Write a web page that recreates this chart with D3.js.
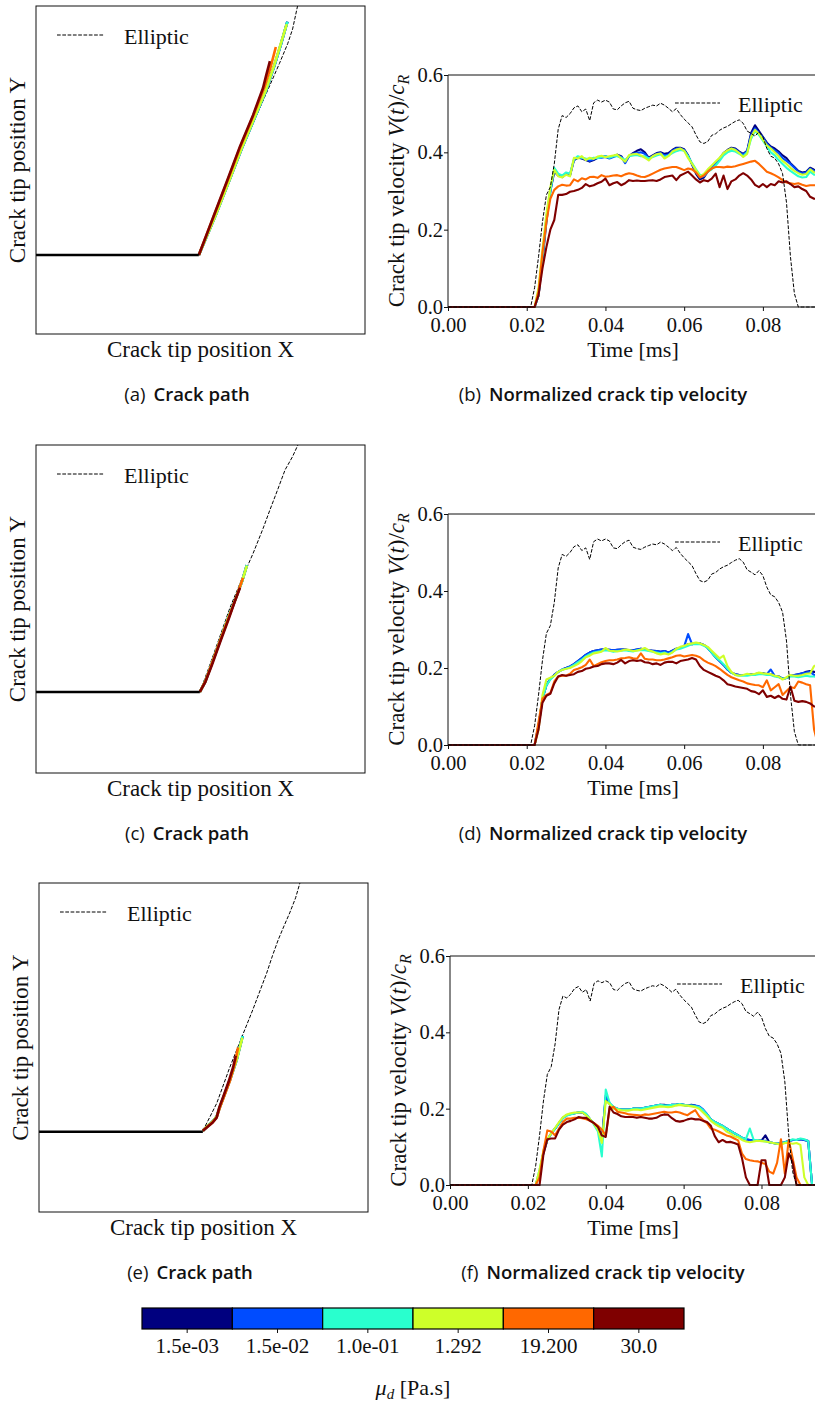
<!DOCTYPE html>
<html>
<head>
<meta charset="utf-8">
<script src="https://cdn.jsdelivr.net/npm/d3@7"></script>
<style>
  body { margin: 0; background: #fff; }
  svg { display: block; }
</style>
</head>
<body>
<script>
// ---- data -------------------------------------------------------------
// time samples in microseconds (0.001 ms)
const timeUs = [0,
  20,21,22,23,24,25,26,27,28,29,
  30,31,32,33,34,35,36,37,38,39,
  40,41,42,43,44,45,46,47,48,49,
  50,51,52,53,54,55,56,57,58,59,
  60,61,62,63,64,65,66,67,68,69,
  70,71,72,73,74,75,76,77,78,79,
  80,81,82,83,84,85,86,87,88,89,
  90,91,92,93,94];

const muLabels = ["1.5e-03", "1.5e-02", "1.0e-01", "1.292", "19.200", "30.0"];
const muColors = ["#00007f", "#004cff", "#29ffce", "#ceff29", "#ff6800", "#7f0000"];

// elliptic reference velocity (same in b, d, f)
const vElliptic = [0,
  0,0,.05,.13,.22,.29,.31,.37,.46,.495,
  .49,.50,.515,.52,.505,.512,.482,.528,.535,.53,
  .535,.53,.512,.51,.52,.528,.532,.514,.51,.508,
  .514,.518,.522,.52,.527,.522,.514,.505,.513,.498,
  .486,.476,.466,.445,.427,.423,.428,.444,.448,.457,
  .463,.467,.474,.48,.484,.475,.455,.449,.442,.453,
  .44,.41,.39,.385,.37,.345,.27,.13,.035,0,
  0,0,0,0,0];

// panel (b), one list per mu_d
const velB = [
  [0, 0,0,0,.03,.12,.22,.30,.35,.34,.336, .344,.34,.38,.386,.384,.38,.376,.38,.386,.388,
   .39,.386,.39,.394,.39,.375,.39,.398,.404,.408, .40,.386,.392,.398,.40,.396,.398,.406,.412,.412,
   .408,.392,.368,.345,.33,.335,.35,.36,.372,.384, .398,.406,.412,.41,.402,.396,.404,.45,.47,.455,
   .44,.425,.415,.41,.402,.392,.385,.372,.362,.352, .348,.35,.36,.355,.352],
  [0, 0,0,0,.03,.13,.23,.30,.355,.342,.338, .345,.342,.38,.388,.385,.382,.378,.382,.386,.386,
   .388,.384,.388,.392,.388,.372,.39,.396,.398,.40, .396,.384,.39,.396,.398,.392,.394,.404,.41,.41,
   .406,.39,.37,.35,.335,.338,.352,.362,.372,.382, .396,.404,.41,.408,.40,.394,.402,.445,.462,.45,
   .438,.422,.412,.405,.398,.385,.378,.37,.36,.35, .345,.348,.358,.352,.35],
  [0, 0,0,0,.03,.13,.23,.30,.36,.345,.34, .348,.345,.382,.39,.386,.384,.383,.386,.385,.388,
   .39,.386,.39,.39,.386,.38,.39,.392,.393,.39, .39,.384,.388,.392,.395,.388,.392,.398,.403,.406,
   .404,.39,.372,.356,.342,.34,.35,.356,.366,.378, .392,.40,.404,.402,.396,.39,.40,.435,.455,.445,
   .43,.415,.40,.392,.38,.37,.36,.352,.345,.338, .335,.336,.35,.342,.342],
  [0, 0,0,0,.05,.15,.24,.31,.355,.338,.335, .342,.338,.386,.384,.39,.38,.386,.383,.389,.391,
   .387,.39,.392,.394,.384,.376,.393,.395,.396,.392, .386,.379,.39,.395,.397,.384,.39,.402,.407,.41,
   .404,.385,.37,.354,.338,.344,.356,.366,.376,.386, .398,.405,.41,.406,.398,.388,.396,.44,.458,.448,
   .433,.418,.41,.40,.39,.378,.37,.36,.352,.346, .342,.344,.356,.348,.347],
  [0, 0,0,0,.04,.14,.22,.28,.303,.312,.316, .314,.315,.33,.325,.333,.33,.336,.337,.334,.341,
   .337,.338,.34,.341,.338,.343,.346,.344,.34,.337, .336,.34,.345,.35,.355,.358,.36,.362,.362,.358,
   .354,.358,.356,.348,.335,.34,.35,.358,.362,.362, .361,.363,.362,.364,.367,.37,.373,.376,.378,.37,
   .36,.35,.346,.341,.335,.328,.322,.32,.318,.32, .316,.313,.315,.315,.315],
  [0, 0,0,0,.03,.10,.155,.20,.225,.29,.29, .292,.298,.30,.303,.308,.318,.312,.315,.32,.324,
   .332,.315,.32,.323,.315,.32,.328,.326,.327,.326, .326,.327,.328,.326,.33,.336,.338,.34,.328,.34,
   .345,.35,.34,.33,.322,.328,.325,.332,.345,.31, .34,.305,.325,.33,.34,.346,.34,.33,.316,.31,
   .318,.31,.318,.315,.325,.322,.325,.318,.31,.312, .305,.30,.285,.28,.28]
];

// panel (d)
const velD = [
  [0, 0,0,0,.05,.12,.155,.172,.182,.19,.196, .20,.204,.21,.218,.226,.234,.24,.244,.246,.248,
   .248,.247,.246,.247,.248,.248,.246,.246,.248,.25, .248,.246,.245,.244,.242,.244,.24,.245,.25,.252,
   .256,.262,.262,.265,.264,.26,.252,.24,.228,.218, .208,.196,.188,.184,.182,.182,.182,.184,.184,.186,
   .186,.184,.184,.18,.178,.172,.174,.18,.182,.184, .186,.19,.192,.19,.188],
  [0, 0,0,0,.05,.12,.155,.172,.182,.19,.196, .20,.204,.21,.218,.226,.234,.24,.244,.246,.248,
   .248,.247,.246,.247,.248,.248,.246,.246,.248,.25, .248,.246,.245,.244,.242,.244,.24,.245,.25,.252,
   .256,.288,.262,.265,.264,.26,.252,.24,.228,.218, .208,.196,.188,.184,.182,.182,.182,.184,.184,.186,
   .186,.184,.196,.18,.178,.172,.174,.18,.182,.184, .186,.188,.19,.182,.18],
  [0, 0,0,0,.05,.12,.155,.17,.18,.19,.196, .198,.202,.208,.215,.222,.23,.236,.24,.242,.244,
   .246,.245,.242,.244,.245,.246,.244,.243,.246,.247, .246,.244,.242,.24,.238,.24,.236,.242,.248,.25,
   .254,.258,.262,.262,.262,.258,.252,.24,.228,.22, .21,.198,.188,.182,.18,.18,.18,.182,.182,.184,
   .184,.182,.182,.178,.176,.172,.174,.178,.178,.176, .178,.18,.178,.178,.175],
  [0, 0,0,0,.04,.13,.17,.175,.18,.19,.195, .198,.20,.205,.21,.218,.228,.232,.238,.24,.242,
   .252,.245,.244,.243,.245,.248,.247,.244,.245,.248, .252,.246,.243,.238,.235,.238,.235,.24,.25,.255,
   .258,.262,.264,.266,.264,.26,.255,.245,.235,.225, .232,.205,.19,.182,.18,.182,.185,.183,.185,.188,
   .186,.185,.184,.18,.178,.17,.176,.182,.18,.18, .182,.185,.186,.205,.21],
  [0, 0,0,0,.06,.12,.13,.135,.165,.178,.18, .18,.185,.195,.198,.202,.208,.222,.205,.21,.215,
   .218,.22,.22,.222,.225,.226,.228,.225,.224,.238, .224,.222,.222,.22,.22,.222,.225,.228,.232,.233,
   .23,.232,.234,.232,.228,.22,.214,.21,.205,.198, .19,.182,.176,.172,.168,.165,.16,.158,.156,.155,
   .15,.168,.142,.15,.158,.13,.14,.15,.148,.165, .162,.158,.155,.04,0],
  [0, 0,0,0,.04,.11,.128,.133,.16,.178,.182, .18,.182,.184,.19,.192,.198,.20,.204,.205,.21,
   .212,.212,.21,.214,.221,.212,.218,.22,.218,.22, .215,.214,.21,.212,.208,.214,.216,.216,.212,.218,
   .22,.222,.226,.222,.205,.195,.19,.185,.18,.176, .168,.158,.155,.152,.15,.148,.146,.14,.138,.132,
   .142,.125,.128,.122,.128,.12,.118,.152,.115,.112, .114,.112,.108,.10,.10]
];

// panel (f)
const velF = [
  [0, 0,0,0,.03,.085,.118,.135,.148,.162,.176, .183,.186,.188,.19,.19,.184,.172,.16,.145,.12,
   .23,.212,.202,.2,.198,.198,.198,.2,.2,.2, .202,.204,.206,.208,.21,.21,.208,.21,.21,.212,
   .21,.208,.21,.208,.204,.196,.185,.172,.165,.16, .155,.148,.142,.136,.13,.124,.12,.118,.118,.118,
   .116,.13,.112,.11,.108,.11,.112,.115,.118,.118, .12,.118,.115,0,0],
  [0, 0,0,0,.03,.085,.118,.135,.148,.162,.176, .183,.186,.188,.19,.19,.184,.172,.16,.145,.115,
   .235,.214,.204,.2,.198,.198,.198,.2,.2,.2, .202,.204,.206,.208,.21,.208,.208,.21,.21,.212,
   .21,.208,.208,.208,.206,.198,.186,.172,.165,.16, .155,.148,.142,.136,.13,.124,.12,.118,.118,.118,
   .116,.116,.112,.11,.108,.11,.112,.115,.118,.118, .12,.118,.115,0,0],
  [0, 0,0,0,.04,.085,.118,.135,.148,.162,.175, .182,.185,.188,.19,.192,.186,.172,.158,.14,.075,
   .25,.215,.205,.2,.198,.198,.198,.2,.2,.2, .202,.204,.206,.208,.21,.208,.208,.21,.21,.212,
   .21,.208,.208,.206,.204,.196,.185,.172,.165,.16, .155,.148,.142,.136,.13,.124,.12,.148,.118,.118,
   .116,.114,.112,.11,.108,.11,.112,.115,.12,.118, .122,.12,.115,0,0],
  [0, 0,0,0,.04,.09,.12,.135,.15,.165,.178, .185,.188,.19,.19,.19,.182,.172,.16,.145,.11,
   .22,.212,.2,.198,.196,.195,.195,.197,.198,.196, .198,.2,.202,.204,.206,.205,.204,.205,.208,.21,
   .208,.208,.206,.204,.2,.19,.18,.168,.16,.154, .15,.14,.135,.128,.125,.118,.114,.112,.114,.116,
   .115,.114,.112,.11,.108,.105,.11,.11,.108,.11, .105,.02,0,0,0],
  [0, 0,0,0,.02,.09,.143,.14,.13,.148,.165, .174,.174,.176,.176,.175,.172,.168,.162,.155,.145,
   .13,.2,.205,.192,.19,.188,.185,.184,.183,.182, .185,.184,.186,.188,.19,.192,.19,.19,.192,.19,
   .186,.183,.19,.196,.18,.17,.162,.148,.145,.14, .135,.13,.127,.122,.117,.082,.068,.065,.063,.062,
   .058,.055,.035,.03,.058,.12,.03,.118,.07,.02, 0,0,0,0,0],
  [0, 0,0,0,0,.08,.12,.122,.122,.145,.158, .165,.168,.172,.178,.176,.176,.168,.162,.152,.13,
   .126,.205,.19,.186,.18,.178,.178,.178,.176,.178, .176,.174,.174,.176,.182,.185,.184,.175,.168,.166,
   .168,.172,.174,.172,.172,.168,.165,.155,.128,.112, .118,.112,.113,.11,.106,.07,.02,0,0,0,
   .065,.065,0,0,0,0,.02,.083,.06,0, 0,0,0,0,0]
];

// crack paths, normalised box coordinates [x, y]
const crackA = [[0, .241], [.495, .241]];
const ellipticPathA = [[.495,.241],[.535,.335],[.56,.395],[.595,.485],[.625,.565],[.665,.655],
  [.705,.745],[.74,.825],[.765,.885],[.78,.93],[.795,1.0],[.80,1.03]];
const pathA = [
  [[.495,.241],[.545,.36],[.585,.462],[.625,.565],[.665,.66],[.70,.745],[.725,.82],[.745,.885],[.764,.952]],
  [[.495,.241],[.545,.36],[.585,.462],[.625,.565],[.665,.66],[.70,.745],[.725,.82],[.745,.885],[.764,.952]],
  [[.495,.241],[.545,.36],[.585,.462],[.625,.565],[.665,.66],[.70,.745],[.725,.82],[.745,.885],[.764,.952]],
  [[.495,.241],[.545,.36],[.585,.462],[.625,.566],[.664,.66],[.699,.745],[.724,.82],[.744,.885],[.762,.945]],
  [[.495,.241],[.54,.358],[.58,.462],[.62,.568],[.66,.665],[.695,.755],[.712,.81],[.729,.875]],
  [[.495,.241],[.54,.36],[.58,.465],[.62,.572],[.66,.668],[.69,.75],[.70,.79],[.711,.832]]
];

const crackC = [[0, .247], [.498, .247]];
const ellipticPathC = [[.498,.247],[.525,.32],[.555,.405],[.59,.505],[.625,.59],[.66,.67],[.69,.745],
  [.711,.802],[.735,.865],[.757,.924],[.78,.965],[.796,1.0],[.80,1.03]];
const pathC = [
  [[.498,.247],[.515,.28],[.535,.335],[.56,.405],[.585,.475],[.61,.54],[.628,.59],[.641,.634]],
  [[.498,.247],[.515,.28],[.535,.335],[.56,.405],[.585,.475],[.61,.54],[.628,.59],[.641,.634]],
  [[.498,.247],[.515,.28],[.535,.335],[.56,.405],[.585,.475],[.61,.54],[.628,.59],[.641,.634]],
  [[.498,.247],[.515,.28],[.535,.335],[.56,.405],[.585,.475],[.61,.54],[.628,.59],[.641,.632]],
  [[.498,.247],[.515,.28],[.535,.335],[.56,.405],[.585,.472],[.61,.54],[.629,.595]],
  [[.498,.247],[.515,.278],[.535,.33],[.56,.4],[.585,.468],[.605,.525],[.62,.565]]
];

const crackE = [[0, .244], [.498, .244]];
const ellipticPathE = [[.498,.247],[.52,.29],[.54,.33],[.58,.44],[.619,.538],[.65,.615],[.692,.726],
  [.71,.78],[.727,.827],[.745,.87],[.762,.909],[.78,.955],[.793,1.0],[.80,1.03]];
const pathE = [
  [[.498,.247],[.51,.259],[.528,.275],[.54,.29],[.55,.32],[.565,.36],[.58,.40],[.60,.46],[.619,.535]],
  [[.498,.247],[.51,.259],[.528,.275],[.54,.29],[.55,.32],[.565,.36],[.58,.40],[.60,.46],[.619,.535]],
  [[.498,.247],[.51,.259],[.528,.275],[.54,.29],[.55,.32],[.565,.36],[.58,.40],[.60,.46],[.619,.535]],
  [[.498,.247],[.51,.259],[.528,.275],[.54,.29],[.55,.32],[.565,.36],[.58,.40],[.60,.46],[.618,.53]],
  [[.498,.247],[.51,.258],[.528,.273],[.54,.288],[.55,.318],[.565,.358],[.58,.398],[.595,.45],[.605,.50]],
  [[.498,.247],[.51,.257],[.528,.272],[.54,.287],[.548,.318],[.562,.356],[.576,.395],[.59,.44],[.598,.475]]
];

// ---- drawing -----------------------------------------------------------
const W = 815, H = 1404;
const serif = "'Liberation Serif', 'Times New Roman', serif";
const sans = "'Open Sans', 'Noto Sans', sans-serif";
const ink = "#111";

const svg = d3.select("body").append("svg")
    .attr("width", W).attr("height", H)
    .attr("viewBox", [0, 0, W, H]);
const defs = svg.append("defs");

function caption(cx, cy, letter, title) {
  const t = svg.append("text")
      .attr("x", cx).attr("y", cy)
      .attr("text-anchor", "middle")
      .attr("font-family", sans).attr("font-size", 18.5).attr("fill", ink);
  t.append("tspan").text("(" + letter + ")");
  t.append("tspan").attr("dx", 8).attr("font-weight", 600).text(title);
}

function pathPanel(box, crack, elliptic, series, letter, capY, capX) {
  const g = svg.append("g");
  const x = d3.scaleLinear().domain([0, 1]).range([box.x0, box.x1]);
  const y = d3.scaleLinear().domain([0, 1]).range([box.y1, box.y0]);
  const line = d3.line().x(d => x(d[0])).y(d => y(d[1]));

  defs.append("clipPath").attr("id", "clip" + letter)
    .append("rect").attr("x", box.x0).attr("y", box.y0)
    .attr("width", box.x1 - box.x0).attr("height", box.y1 - box.y0);

  const lg = g.append("g").attr("clip-path", `url(#clip${letter})`);
  lg.append("path").attr("d", line(elliptic))
    .attr("fill", "none").attr("stroke", "#000")
    .attr("stroke-width", 1).attr("stroke-dasharray", "3.7,1.6");
  series.forEach((s, k) => {
    lg.append("path").attr("d", line(s))
      .attr("fill", "none").attr("stroke", muColors[k])
      .attr("stroke-width", 2.6).attr("stroke-linejoin", "round");
  });
  lg.append("path").attr("d", line(crack))
    .attr("fill", "none").attr("stroke", "#000").attr("stroke-width", 2.6);

  g.append("rect").attr("x", box.x0).attr("y", box.y0)
    .attr("width", box.x1 - box.x0).attr("height", box.y1 - box.y0)
    .attr("fill", "none").attr("stroke", ink).attr("stroke-width", 1);

  // legend
  g.append("line")
    .attr("x1", box.x0 + 21).attr("x2", box.x0 + 68)
    .attr("y1", box.y0 + 29).attr("y2", box.y0 + 29)
    .attr("stroke", "#000").attr("stroke-width", 1).attr("stroke-dasharray", "3.7,1.6");
  g.append("text").attr("x", box.x0 + 88).attr("y", box.y0 + 38)
    .attr("font-family", serif).attr("font-size", 22).attr("fill", ink)
    .text("Elliptic");

  g.append("text")
    .attr("x", (box.x0 + box.x1) / 2).attr("y", box.y1 + 23)
    .attr("text-anchor", "middle")
    .attr("font-family", serif).attr("font-size", 23).attr("fill", ink)
    .text("Crack tip position X");
  g.append("text")
    .attr("transform", `translate(${box.x0 - 11},${(box.y0 + box.y1) / 2}) rotate(-90)`)
    .attr("text-anchor", "middle")
    .attr("font-family", serif).attr("font-size", 23).attr("fill", ink)
    .text("Crack tip position Y");

  caption(capX, capY, letter, "Crack path");
}

function velPanel(ax, series, letter, capY) {
  const g = svg.append("g");
  const x = d3.scaleLinear().domain([0, 0.094]).range([ax.x0, ax.x1]);
  const y = d3.scaleLinear().domain([0, 0.6]).range([ax.yb, ax.yt]);
  const line = d3.line().x((d, i) => x(timeUs[i] / 1000)).y(d => y(d));

  defs.append("clipPath").attr("id", "clip" + letter)
    .append("rect").attr("x", ax.x0).attr("y", ax.yt)
    .attr("width", ax.x1 - ax.x0).attr("height", ax.yb - ax.yt + 1.5);

  const lg = g.append("g").attr("clip-path", `url(#clip${letter})`);
  series.forEach((s, k) => {
    lg.append("path").attr("d", line(s))
      .attr("fill", "none").attr("stroke", muColors[k])
      .attr("stroke-width", 2.1).attr("stroke-linejoin", "round");
  });
  lg.append("path").attr("d", line(vElliptic))
    .attr("fill", "none").attr("stroke", "#000")
    .attr("stroke-width", 1).attr("stroke-dasharray", "3.7,1.6");

  const xa = g.append("g").attr("transform", `translate(0,${ax.yb})`)
    .call(d3.axisBottom(x).tickValues([0, 0.02, 0.04, 0.06, 0.08])
      .tickFormat(d3.format(".2f")).tickSize(4).tickPadding(6));
  const ya = g.append("g").attr("transform", `translate(${ax.x0},0)`)
    .call(d3.axisLeft(y).tickValues([0, 0.2, 0.4, 0.6])
      .tickFormat(d3.format(".1f")).tickSize(4).tickPadding(1));
  [xa, ya].forEach(a => {
    a.select(".domain").remove();
    a.selectAll("line").attr("stroke", ink);
    a.selectAll("text").attr("font-family", serif).attr("font-size", 20.5).attr("fill", ink);
  });

  // spines (right one falls outside the page)
  g.append("path")
    .attr("d", `M${ax.x1},${ax.yt}H${ax.x0}V${ax.yb}H${ax.x1}`)
    .attr("fill", "none").attr("stroke", ink).attr("stroke-width", 1);

  // legend
  g.append("line")
    .attr("x1", ax.x0 + 227).attr("x2", ax.x0 + 272)
    .attr("y1", ax.yt + 28).attr("y2", ax.yt + 28)
    .attr("stroke", "#000").attr("stroke-width", 1).attr("stroke-dasharray", "3.7,1.6");
  g.append("text").attr("x", ax.x0 + 290).attr("y", ax.yt + 37)
    .attr("font-family", serif).attr("font-size", 22).attr("fill", ink)
    .text("Elliptic");

  g.append("text")
    .attr("x", (ax.x0 + ax.x1) / 2).attr("y", ax.yb + 50)
    .attr("text-anchor", "middle")
    .attr("font-family", serif).attr("font-size", 22).attr("fill", ink)
    .text("Time [ms]");

  const yl = g.append("text")
    .attr("transform", `translate(${ax.x0 - 44},${(ax.yt + ax.yb) / 2}) rotate(-90)`)
    .attr("text-anchor", "middle")
    .attr("font-family", serif).attr("font-size", 23).attr("fill", ink);
  yl.append("tspan").text("Crack tip velocity ");
  yl.append("tspan").attr("font-style", "italic").text("V");
  yl.append("tspan").text("(");
  yl.append("tspan").attr("font-style", "italic").text("t");
  yl.append("tspan").text(")/");
  yl.append("tspan").attr("font-style", "italic").text("c");
  yl.append("tspan").attr("font-style", "italic").attr("font-size", 16).attr("dy", 5).text("R");

  caption(603, capY, letter, "Normalized crack tip velocity");
}

pathPanel({x0: 36, x1: 365, y0: 6, y1: 334}, crackA, ellipticPathA, pathA, "a", 401, 187);
velPanel({x0: 448, x1: 818, yt: 75, yb: 307}, velB, "b", 401);

pathPanel({x0: 36, x1: 365, y0: 445, y1: 773}, crackC, ellipticPathC, pathC, "c", 840, 187);
velPanel({x0: 448, x1: 818, yt: 514, yb: 745}, velD, "d", 840);

pathPanel({x0: 39, x1: 368, y0: 883, y1: 1212}, crackE, ellipticPathE, pathE, "e", 1279, 190);
velPanel({x0: 450, x1: 816, yt: 956, yb: 1185}, velF, "f", 1279);

// ---- colour bar --------------------------------------------------------
const cb = d3.scaleBand().domain(muLabels).range([142, 684]);
const cbTop = 1308, cbBot = 1329;
const cbg = svg.append("g");
cbg.selectAll("rect.seg").data(muLabels).join("rect")
  .attr("class", "seg")
  .attr("x", d => cb(d)).attr("y", cbTop)
  .attr("width", cb.bandwidth()).attr("height", cbBot - cbTop)
  .attr("fill", (d, i) => muColors[i])
  .attr("stroke", "#000").attr("stroke-width", 1.2);
cbg.selectAll("line.tick").data(muLabels).join("line")
  .attr("class", "tick")
  .attr("x1", d => cb(d) + cb.bandwidth() / 2).attr("x2", d => cb(d) + cb.bandwidth() / 2)
  .attr("y1", cbBot).attr("y2", cbBot + 4)
  .attr("stroke", ink);
cbg.selectAll("text.lab").data(muLabels).join("text")
  .attr("class", "lab")
  .attr("x", d => cb(d) + cb.bandwidth() / 2).attr("y", 1353)
  .attr("text-anchor", "middle")
  .attr("font-family", serif).attr("font-size", 21).attr("fill", ink)
  .text(d => d);
const mu = cbg.append("text")
  .attr("x", 413).attr("y", 1395)
  .attr("text-anchor", "middle")
  .attr("font-family", serif).attr("font-size", 22).attr("fill", ink);
mu.append("tspan").attr("font-style", "italic").text("μ");
mu.append("tspan").attr("font-style", "italic").attr("font-size", 15).attr("dy", 4).text("d");
mu.append("tspan").attr("dy", -4).text(" [Pa.s]");
</script>
</body>
</html>
